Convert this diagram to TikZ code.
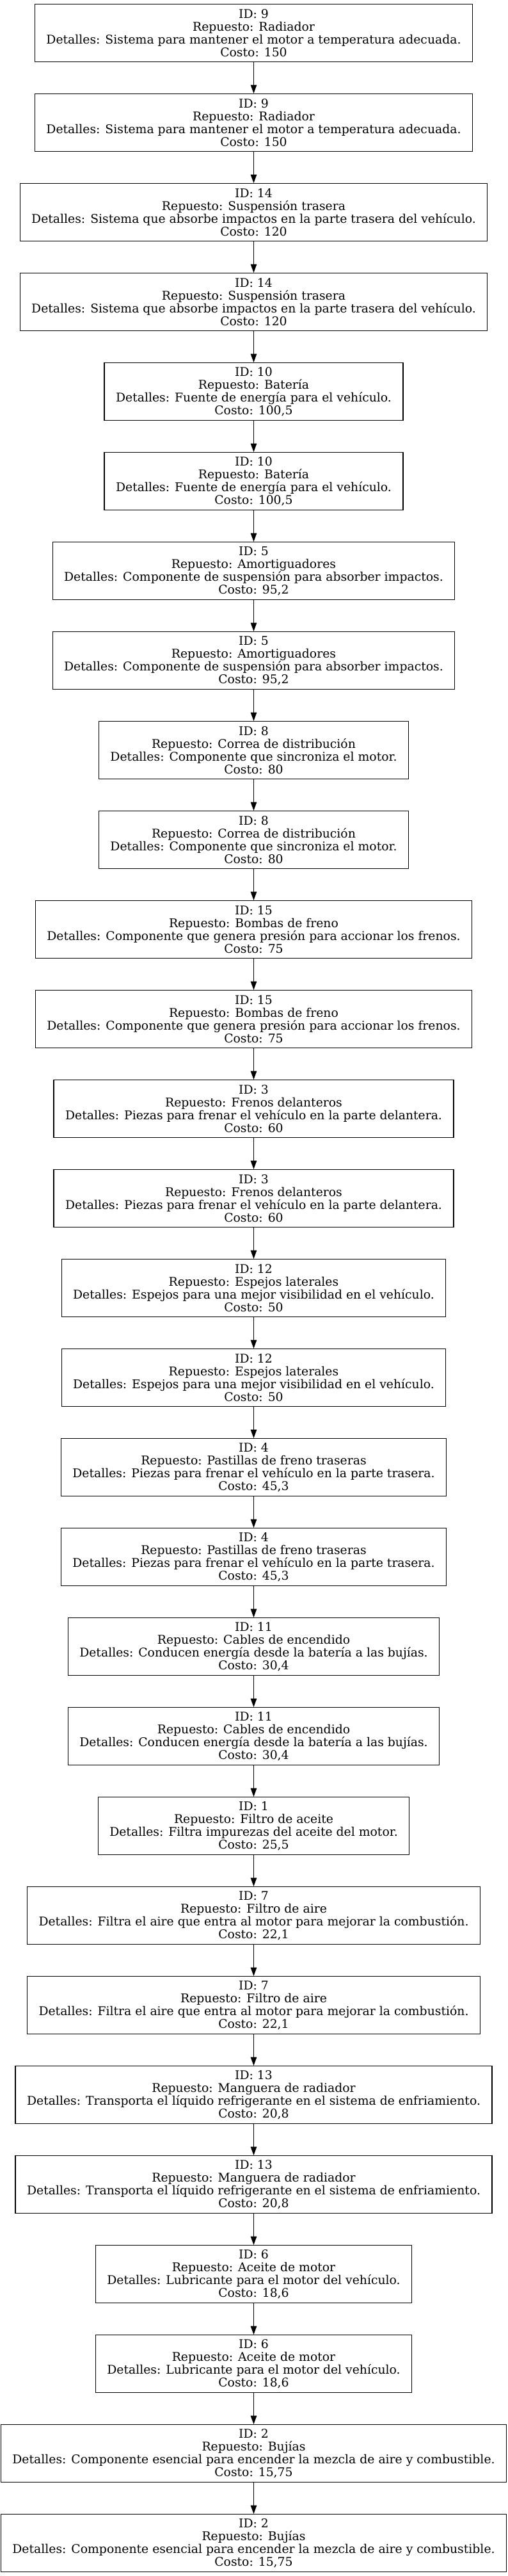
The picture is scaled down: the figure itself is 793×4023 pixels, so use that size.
\documentclass[tikz,border=0pt]{standalone}
\usepackage{fontspec}
\setmainfont{DejaVu Serif}
\usetikzlibrary{arrows.meta,positioning}
\newcommand\fuentepieza{\fontsize{18.8}{20}\selectfont\lineskiplimit=-100pt\relax\lineskip=0pt\relax}
\tikzset{
  pieza/.style={rectangle, draw=black, line width=1.3pt, align=center,
    font=\fuentepieza, inner xsep=18pt, inner ysep=0pt, minimum height=89.7pt},
  flecha/.style={-{Triangle[length=13.5pt,width=9.5pt]}, draw=black, line width=1.3pt},
}

\begin{document}
\begin{tikzpicture}[x=1pt,y=1pt,node distance=49pt]
  \useasboundingbox (0,0) rectangle (793,-4023);
  \node[pieza, anchor=north] (p9a) at (396.5,-6) {ID: 9\\Repuesto: Radiador\\Detalles: Sistema para mantener el motor a temperatura adecuada.\\Costo: 150};
  \node[pieza, below=of p9a] (p9b) {ID: 9\\Repuesto: Radiador\\Detalles: Sistema para mantener el motor a temperatura adecuada.\\Costo: 150};
  \node[pieza, below=of p9b] (p14a) {ID: 14\\Repuesto: Suspensión trasera\\Detalles: Sistema que absorbe impactos en la parte trasera del vehículo.\\Costo: 120};
  \node[pieza, below=of p14a] (p14b) {ID: 14\\Repuesto: Suspensión trasera\\Detalles: Sistema que absorbe impactos en la parte trasera del vehículo.\\Costo: 120};
  \node[pieza, below=of p14b] (p10a) {ID: 10\\Repuesto: Batería\\Detalles: Fuente de energía para el vehículo.\\Costo: 100,5};
  \node[pieza, below=of p10a] (p10b) {ID: 10\\Repuesto: Batería\\Detalles: Fuente de energía para el vehículo.\\Costo: 100,5};
  \node[pieza, below=of p10b] (p5a) {ID: 5\\Repuesto: Amortiguadores\\Detalles: Componente de suspensión para absorber impactos.\\Costo: 95,2};
  \node[pieza, below=of p5a] (p5b) {ID: 5\\Repuesto: Amortiguadores\\Detalles: Componente de suspensión para absorber impactos.\\Costo: 95,2};
  \node[pieza, below=of p5b] (p8a) {ID: 8\\Repuesto: Correa de distribución\\Detalles: Componente que sincroniza el motor.\\Costo: 80};
  \node[pieza, below=of p8a] (p8b) {ID: 8\\Repuesto: Correa de distribución\\Detalles: Componente que sincroniza el motor.\\Costo: 80};
  \node[pieza, below=of p8b] (p15a) {ID: 15\\Repuesto: Bombas de freno\\Detalles: Componente que genera presión para accionar los frenos.\\Costo: 75};
  \node[pieza, below=of p15a] (p15b) {ID: 15\\Repuesto: Bombas de freno\\Detalles: Componente que genera presión para accionar los frenos.\\Costo: 75};
  \node[pieza, below=of p15b] (p3a) {ID: 3\\Repuesto: Frenos delanteros\\Detalles: Piezas para frenar el vehículo en la parte delantera.\\Costo: 60};
  \node[pieza, below=of p3a] (p3b) {ID: 3\\Repuesto: Frenos delanteros\\Detalles: Piezas para frenar el vehículo en la parte delantera.\\Costo: 60};
  \node[pieza, below=of p3b] (p12a) {ID: 12\\Repuesto: Espejos laterales\\Detalles: Espejos para una mejor visibilidad en el vehículo.\\Costo: 50};
  \node[pieza, below=of p12a] (p12b) {ID: 12\\Repuesto: Espejos laterales\\Detalles: Espejos para una mejor visibilidad en el vehículo.\\Costo: 50};
  \node[pieza, below=of p12b] (p4a) {ID: 4\\Repuesto: Pastillas de freno traseras\\Detalles: Piezas para frenar el vehículo en la parte trasera.\\Costo: 45,3};
  \node[pieza, below=of p4a] (p4b) {ID: 4\\Repuesto: Pastillas de freno traseras\\Detalles: Piezas para frenar el vehículo en la parte trasera.\\Costo: 45,3};
  \node[pieza, below=of p4b] (p11a) {ID: 11\\Repuesto: Cables de encendido\\Detalles: Conducen energía desde la batería a las bujías.\\Costo: 30,4};
  \node[pieza, below=of p11a] (p11b) {ID: 11\\Repuesto: Cables de encendido\\Detalles: Conducen energía desde la batería a las bujías.\\Costo: 30,4};
  \node[pieza, below=of p11b] (p1) {ID: 1\\Repuesto: Filtro de aceite\\Detalles: Filtra impurezas del aceite del motor.\\Costo: 25,5};
  \node[pieza, below=of p1] (p7a) {ID: 7\\Repuesto: Filtro de aire\\Detalles: Filtra el aire que entra al motor para mejorar la combustión.\\Costo: 22,1};
  \node[pieza, below=of p7a] (p7b) {ID: 7\\Repuesto: Filtro de aire\\Detalles: Filtra el aire que entra al motor para mejorar la combustión.\\Costo: 22,1};
  \node[pieza, below=of p7b] (p13a) {ID: 13\\Repuesto: Manguera de radiador\\Detalles: Transporta el líquido refrigerante en el sistema de enfriamiento.\\Costo: 20,8};
  \node[pieza, below=of p13a] (p13b) {ID: 13\\Repuesto: Manguera de radiador\\Detalles: Transporta el líquido refrigerante en el sistema de enfriamiento.\\Costo: 20,8};
  \node[pieza, below=of p13b] (p6a) {ID: 6\\Repuesto: Aceite de motor\\Detalles: Lubricante para el motor del vehículo.\\Costo: 18,6};
  \node[pieza, below=of p6a] (p6b) {ID: 6\\Repuesto: Aceite de motor\\Detalles: Lubricante para el motor del vehículo.\\Costo: 18,6};
  \node[pieza, below=of p6b] (p2a) {ID: 2\\Repuesto: Bujías\\Detalles: Componente esencial para encender la mezcla de aire y combustible.\\Costo: 15,75};
  \node[pieza, below=of p2a] (p2b) {ID: 2\\Repuesto: Bujías\\Detalles: Componente esencial para encender la mezcla de aire y combustible.\\Costo: 15,75};
  % enlaces
  \draw[flecha] (p9a) -- (p9b);
  \draw[flecha] (p9b) -- (p14a);
  \draw[flecha] (p14a) -- (p14b);
  \draw[flecha] (p14b) -- (p10a);
  \draw[flecha] (p10a) -- (p10b);
  \draw[flecha] (p10b) -- (p5a);
  \draw[flecha] (p5a) -- (p5b);
  \draw[flecha] (p5b) -- (p8a);
  \draw[flecha] (p8a) -- (p8b);
  \draw[flecha] (p8b) -- (p15a);
  \draw[flecha] (p15a) -- (p15b);
  \draw[flecha] (p15b) -- (p3a);
  \draw[flecha] (p3a) -- (p3b);
  \draw[flecha] (p3b) -- (p12a);
  \draw[flecha] (p12a) -- (p12b);
  \draw[flecha] (p12b) -- (p4a);
  \draw[flecha] (p4a) -- (p4b);
  \draw[flecha] (p4b) -- (p11a);
  \draw[flecha] (p11a) -- (p11b);
  \draw[flecha] (p11b) -- (p1);
  \draw[flecha] (p1) -- (p7a);
  \draw[flecha] (p7a) -- (p7b);
  \draw[flecha] (p7b) -- (p13a);
  \draw[flecha] (p13a) -- (p13b);
  \draw[flecha] (p13b) -- (p6a);
  \draw[flecha] (p6a) -- (p6b);
  \draw[flecha] (p6b) -- (p2a);
  \draw[flecha] (p2a) -- (p2b);
\end{tikzpicture}
\end{document}
